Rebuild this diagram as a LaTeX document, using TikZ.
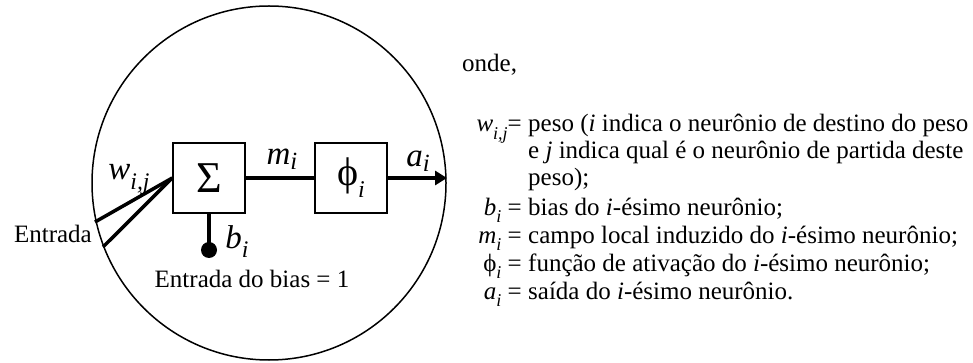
\documentclass[tikz,border=0pt]{standalone}
\usepackage{fontspec}
\usepackage{graphicx}
\setmainfont{Liberation Serif}
\usetikzlibrary{arrows.meta}
\newcommand\lbl[2]{\textit{#1}\raisebox{-0.3em}{\scalebox{0.72}{\textit{#2}}}}
\begin{document}
\begin{tikzpicture}[x=1pt,y=-1pt,
  blockbox/.style={draw,line width=1.5pt,minimum width=72pt,minimum height=70pt,inner sep=0pt},
  wire/.style={line width=3.5pt},
  big/.style={font=\fontsize{33}{38}\selectfont,inner sep=0pt},
  txt/.style={font=\fontsize{25}{30}\selectfont,inner sep=0pt}]
\useasboundingbox (0,0) rectangle (973,363);
% neuron boundary
\node[circle,draw,line width=1.5pt,minimum size=354pt,inner sep=0pt] (cell) at (269,183) {};
% blocks
\node[blockbox,font=\fontsize{44}{48}\selectfont] (sum) at (209,178) {Σ};
\node[blockbox,font=\fontsize{40}{44}\selectfont] (act) at (351,178) {ϕ\raisebox{-0.3em}{\scalebox{0.6}{\textit{i}}}};
\draw[wire] (sum) -- (act);
\coordinate (out) at (447,178);
\draw[wire,-{Triangle[length=12pt,width=14pt]}] (act) -- (out);
% inputs
\coordinate (in1) at (95,222);
\coordinate (in2) at (103,247);
\draw[wire] (sum.west) -- (in1);
\draw[wire] (sum.west) -- (in2);
% bias
\node[circle,fill,minimum size=16pt,inner sep=0pt] (bdot) at (209,250) {};
\draw[wire] (sum.south) -- (bdot.center);
% labels in the diagram
\node[big,anchor=base] (wlab) at (129,180) {\lbl{w}{i,j}};
\node[big,anchor=base] (mlab) at (282,165) {\textit{m}\raisebox{-0.15em}{\scalebox{0.75}{\textit{i}}}};
\node[big,anchor=base] (alab) at (418,167) {\textit{a}\raisebox{-0.15em}{\scalebox{0.75}{\textit{i}}}};
\node[big,anchor=base] (blab) at (237,248) {\lbl{b}{i}};
\node[txt,anchor=base east] (entr) at (92,242) {Entrada};
\node[txt,anchor=base] (bin) at (252,287) {Entrada do bias = 1};
% legend
\node[txt,anchor=base west] (onde) at (462,72) {onde,};
\node[txt,anchor=base east] (lw) at (522,132) {\lbl{w}{i,j}=};
\node[txt,anchor=base west] (tw1) at (528,132) {peso (\textit{i} indica o neurônio de destino do peso};
\node[txt,anchor=base west] (tw2) at (528,159) {e \textit{j} indica qual é o neurônio de partida deste};
\node[txt,anchor=base west] (tw3) at (528,186) {peso);};
\node[txt,anchor=base east] (lb) at (522,215) {\lbl{b}{i} =};
\node[txt,anchor=base west] (tb) at (528,215) {bias do \textit{i}-ésimo neurônio;};
\node[txt,anchor=base east] (lm) at (522,243) {\lbl{m}{i} =};
\node[txt,anchor=base west] (tm) at (528,243) {campo local induzido do \textit{i}-ésimo neurônio;};
\node[txt,anchor=base east] (lp) at (522,271) {ϕ\raisebox{-0.3em}{\scalebox{0.72}{\textit{i}}} =};
\node[txt,anchor=base west] (tp) at (528,271) {função de ativação do \textit{i}-ésimo neurônio;};
\node[txt,anchor=base east] (la) at (522,299) {\lbl{a}{i} =};
\node[txt,anchor=base west] (ta) at (528,299) {saída do \textit{i}-ésimo neurônio.};
\end{tikzpicture}
\end{document}
